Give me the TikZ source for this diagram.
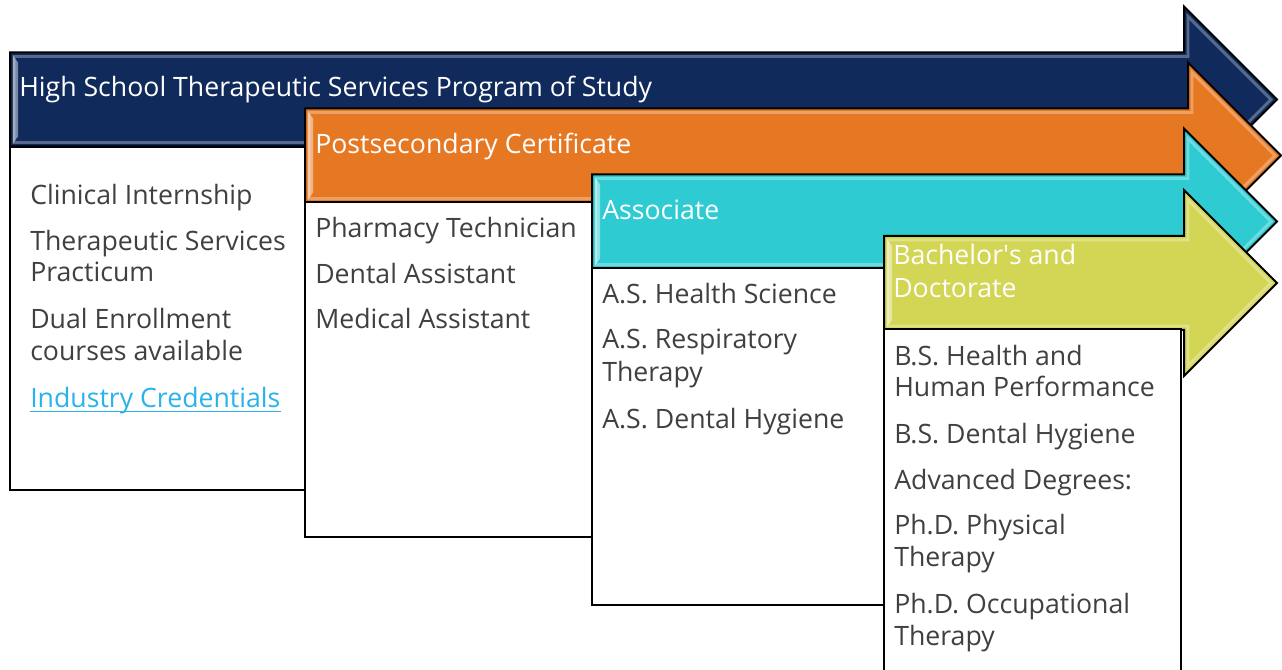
\documentclass[tikz,border=0pt]{standalone}
\usepackage{fontspec}
\setmainfont{Open Sans}
\definecolor{navyc}{HTML}{0F2A5B}
\definecolor{orangec}{HTML}{E67823}
\definecolor{cyanc}{HTML}{2ECCD2}
\definecolor{limec}{HTML}{D3D555}
\definecolor{bodygray}{HTML}{404040}
\definecolor{linkc}{HTML}{29B3EA}
\newcommand\stagearrow[4]{% #1 colour, #2 left x, #3 centre y, #4 head back x
  \fill[#1, draw=black, line width=1.5, line join=miter]
    (#2,#3-47) -- (#4,#3-47) -- (#4,#3-93) -- (#4+93,#3) -- (#4,#3+93) -- (#4,#3+47) -- (#2,#3+47) -- cycle;
  \draw[white, opacity=0.30, line width=2.2, line join=miter]
    (#2+4,#3-43) -- (#4+4,#3-43) -- (#4+4,#3-83) -- (#4+87,#3) -- (#4+4,#3+83) -- (#4+4,#3+43) -- (#2+4,#3+43) -- cycle;
  \fill[white, opacity=0.45] (#2+3,#3-44) -- (#2+8,#3-37) -- (#2+8,#3+37) -- (#2+3,#3+44) -- cycle;
}
\begin{document}
\begin{tikzpicture}[x=0.75pt,y=-0.75pt,
  hdr/.style={anchor=base west, text=white, inner sep=0, font=\fontsize{20}{24}\selectfont},
  itm/.style={anchor=base west, text=bodygray, inner sep=0, font=\fontsize{20}{24}\selectfont},
  lnk/.style={anchor=base west, text=linkc, inner sep=0, font=\fontsize{20}{24}\selectfont},
  panel/.style={fill=white, draw=black, line width=1.5}]
\useasboundingbox (0,0) rectangle (1282,670);
\clip (0,0) rectangle (1282,670);
% stage 1
\stagearrow{navyc}{10}{99.5}{1184}
\draw[panel] (10,147) rectangle (305,490);
\node[hdr] (h1) at (19,97) {High School Therapeutic Services Program of Study};
\node[itm] (a1) at (30,205) {Clinical Internship};
\node[itm] (a2) at (30,251) {Therapeutic Services};
\node[itm] (a2b) at (30,282) {Practicum};
\node[itm] (a3) at (30,329) {Dual Enrollment};
\node[itm] (a3b) at (30,361) {courses available};
\node[lnk] (a4) at (30,407) {Industry Credentials};
\draw[linkc, line width=1.2] ([yshift=-3.5pt]a4.base west) -- ([yshift=-3.5pt]a4.base east);
% stage 2
\stagearrow{orangec}{305}{155.5}{1188}
\draw[panel] (305,202) rectangle (592,537);
\node[hdr] (h2) at (315,154) {Postsecondary Certificate};
\node[itm] (b1) at (315,238) {Pharmacy Technician};
\node[itm] (b2) at (315,284) {Dental Assistant};
\node[itm] (b3) at (315,329) {Medical Assistant};
% stage 3
\stagearrow{cyanc}{592}{221.5}{1184}
\draw[panel] (592,268) rectangle (884,605);
\node[hdr] (h3) at (602,220) {Associate};
\node[itm] (c1) at (602,304) {A.S. Health Science};
\node[itm] (c2) at (602,349) {A.S. Respiratory};
\node[itm] (c2b) at (602,382) {Therapy};
\node[itm] (c3) at (602,428) {A.S. Dental Hygiene};
% stage 4
\stagearrow{limec}{884}{283}{1184}
\draw[panel] (884,329) rectangle (1181,700);
\node[hdr] (h4) at (893,265) {Bachelor\textquotesingle s and};
\node[hdr] (h4b) at (893,298) {Doctorate};
\node[itm] (d1) at (894,365) {B.S. Health and};
\node[itm] (d1b) at (894,397) {Human Performance};
\node[itm] (d2) at (894,443) {B.S. Dental Hygiene};
\node[itm] (d3) at (894,489) {Advanced Degrees:};
\node[itm] (d4) at (894,534) {Ph.D. Physical};
\node[itm] (d4b) at (894,566) {Therapy};
\node[itm] (d5) at (894,613) {Ph.D. Occupational};
\node[itm] (d5b) at (894,645) {Therapy};
\end{tikzpicture}
\end{document}
